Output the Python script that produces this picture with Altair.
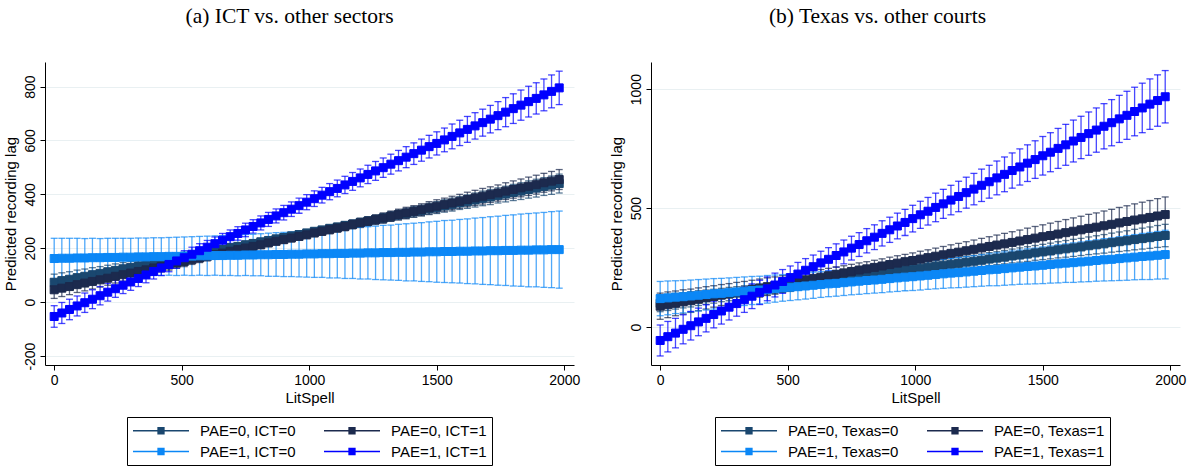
import altair as alt
import pandas as pd

LITSPELL = [0, 30, 60, 90, 120, 150, 180, 210, 240, 270, 300, 330, 360, 390, 420, 450, 480, 510, 540, 570,
            600, 630, 660, 690, 720, 750, 780, 810, 840, 870, 900, 930, 960, 990, 1020, 1050, 1080, 1110, 1140, 1170,
            1200, 1230, 1260, 1290, 1320, 1350, 1380, 1410, 1440, 1470, 1500, 1530, 1560, 1590, 1620, 1650, 1680, 1710,
            1740, 1770, 1800, 1830, 1860, 1890, 1920, 1950, 1980]

A_LABELS = ["PAE=0, ICT=0", "PAE=0, ICT=1", "PAE=1, ICT=0", "PAE=1, ICT=1"]
B_LABELS = ["PAE=0, Texas=0", "PAE=0, Texas=1", "PAE=1, Texas=0", "PAE=1, Texas=1"]
COLORS = ["#1a476f", "#1c2a4e", "#0b87f6", "#0000ff"]

A_MEAN_00 = [74, 80, 85, 91, 96, 102, 107, 113, 118, 124, 129, 135, 141, 146, 152, 157, 163, 168, 174, 179,
             185, 190, 196, 202, 207, 213, 218, 224, 229, 235, 240, 246, 251, 257, 263, 268, 274, 279, 285, 290,
             296, 301, 307, 312, 318, 324, 329, 335, 340, 346, 351, 357, 362, 368, 373, 379, 385, 390, 396, 401,
             407, 412, 418, 423, 429, 434, 440]
A_MEAN_01 = [46, 52, 58, 65, 71, 77, 83, 89, 96, 102, 108, 114, 120, 127, 133, 139, 145, 151, 158, 164,
             170, 176, 182, 189, 195, 201, 207, 213, 220, 226, 232, 238, 244, 250, 257, 263, 269, 275, 281, 288,
             294, 300, 306, 312, 319, 325, 331, 337, 343, 350, 356, 362, 368, 374, 381, 387, 393, 399, 405, 412,
             418, 424, 430, 436, 443, 449, 455]
A_MEAN_10 = [162, 163, 163, 164, 164, 165, 165, 166, 166, 167, 167, 168, 168, 169, 169, 170, 170, 171, 171, 172,
             172, 173, 173, 174, 174, 175, 175, 176, 176, 177, 177, 178, 178, 179, 179, 180, 180, 181, 181, 182,
             182, 183, 183, 184, 184, 185, 185, 186, 186, 187, 187, 188, 188, 189, 189, 190, 190, 191, 191, 192,
             192, 193, 193, 194, 194, 195, 195]
A_MEAN_11 = [-53, -40, -27, -14, -2, 11, 24, 37, 50, 63, 75, 88, 101, 114, 127, 140, 153, 165, 178, 191,
             204, 217, 230, 243, 255, 268, 281, 294, 307, 320, 332, 345, 358, 371, 384, 397, 410, 422, 435, 448,
             461, 474, 487, 499, 512, 525, 538, 551, 564, 577, 589, 602, 615, 628, 641, 654, 666, 679, 692, 705,
             718, 731, 744, 756, 769, 782, 795]
A_HW_00 = [30, 29, 28, 28, 27, 26, 25, 24, 24, 23, 22, 21, 20, 20, 19, 18, 18, 17, 16, 16,
           15, 15, 14, 14, 13, 13, 13, 12, 12, 12, 12, 12, 12, 12, 13, 13, 13, 14, 14, 15,
           15, 16, 16, 17, 18, 18, 19, 20, 20, 21, 22, 23, 24, 24, 25, 26, 27, 28, 28, 29,
           30, 31, 32, 33, 33, 34, 35]
A_HW_01 = [32, 31, 30, 29, 29, 28, 27, 26, 25, 24, 24, 23, 22, 21, 21, 20, 19, 19, 18, 17,
           17, 16, 16, 15, 15, 15, 14, 14, 14, 14, 14, 14, 14, 14, 14, 15, 15, 15, 16, 16,
           17, 17, 18, 19, 19, 20, 21, 21, 22, 23, 24, 24, 25, 26, 27, 28, 29, 29, 30, 31,
           32, 33, 34, 35, 35, 36, 37]
A_HW_10 = [75, 74, 74, 73, 72, 72, 71, 71, 71, 70, 70, 70, 70, 70, 70, 70, 71, 71, 72, 72,
           73, 73, 74, 75, 76, 76, 77, 78, 80, 81, 82, 83, 84, 86, 87, 88, 90, 91, 93, 94,
           96, 97, 99, 101, 102, 104, 106, 107, 109, 111, 113, 115, 116, 118, 120, 122, 124, 126, 128, 130,
           132, 134, 136, 137, 139, 141, 143]
A_HW_11 = [40, 39, 38, 37, 36, 35, 34, 33, 32, 31, 31, 30, 29, 28, 28, 27, 27, 26, 26, 26,
           25, 25, 25, 25, 25, 25, 25, 26, 26, 26, 27, 27, 28, 28, 29, 29, 30, 31, 32, 33,
           33, 34, 35, 36, 37, 38, 39, 40, 41, 42, 43, 44, 46, 47, 48, 49, 50, 51, 52, 54,
           55, 56, 57, 58, 59, 61, 62]

B_MEAN_00 = [100, 104, 109, 113, 117, 122, 126, 130, 135, 139, 143, 148, 152, 156, 160, 165, 169, 173, 178, 182,
             186, 191, 195, 199, 204, 208, 212, 217, 221, 225, 230, 234, 238, 242, 247, 251, 255, 260, 264, 268,
             273, 277, 281, 286, 290, 294, 299, 303, 307, 312, 316, 320, 325, 329, 333, 337, 342, 346, 350, 355,
             359, 363, 368, 372, 376, 381, 385]
B_MEAN_01 = [88, 94, 100, 106, 111, 117, 123, 129, 135, 140, 146, 152, 158, 164, 170, 175, 181, 187, 193, 199,
             205, 210, 216, 222, 228, 234, 240, 245, 251, 257, 263, 269, 275, 280, 286, 292, 298, 304, 310, 315,
             321, 327, 333, 339, 345, 350, 356, 362, 368, 374, 380, 385, 391, 397, 403, 409, 415, 420, 426, 432,
             438, 444, 450, 455, 461, 467, 473]
B_MEAN_10 = [120, 123, 126, 128, 131, 134, 137, 140, 142, 145, 148, 151, 154, 156, 159, 162, 165, 168, 170, 173,
             176, 179, 182, 184, 187, 190, 193, 196, 198, 201, 204, 207, 210, 212, 215, 218, 221, 224, 227, 229,
             232, 235, 238, 241, 243, 246, 249, 252, 255, 257, 260, 263, 266, 269, 271, 274, 277, 280, 283, 285,
             288, 291, 294, 297, 299, 302, 305]
B_MEAN_11 = [-56, -40, -25, -9, 6, 22, 37, 53, 68, 84, 99, 115, 130, 146, 161, 177, 192, 208, 223, 239,
             254, 270, 285, 301, 316, 332, 347, 363, 378, 394, 409, 425, 440, 456, 472, 487, 503, 518, 534, 549,
             565, 580, 596, 611, 627, 642, 658, 673, 689, 704, 720, 735, 751, 766, 782, 797, 813, 828, 844, 859,
             875, 890, 906, 921, 937, 952, 968]
B_HW_00 = [35, 34, 33, 32, 32, 31, 30, 29, 28, 28, 27, 26, 26, 25, 24, 24, 23, 23, 22, 22,
           21, 21, 21, 20, 20, 20, 20, 20, 20, 20, 20, 21, 21, 21, 22, 22, 22, 23, 23, 24,
           25, 25, 26, 27, 27, 28, 29, 30, 31, 31, 32, 33, 34, 35, 36, 36, 37, 38, 39, 40,
           41, 42, 43, 44, 45, 46, 47]
B_HW_01 = [55, 54, 52, 51, 49, 48, 47, 45, 44, 43, 42, 40, 39, 38, 37, 36, 35, 34, 34, 33,
           32, 32, 31, 31, 30, 30, 30, 30, 30, 30, 31, 31, 31, 32, 33, 33, 34, 35, 36, 37,
           38, 39, 40, 41, 42, 44, 45, 46, 48, 49, 50, 52, 53, 55, 56, 57, 59, 60, 62, 63,
           65, 66, 68, 70, 71, 73, 74]
B_HW_10 = [72, 71, 69, 68, 67, 66, 65, 64, 63, 62, 61, 60, 59, 58, 58, 57, 56, 56, 55, 55,
           55, 54, 54, 54, 54, 54, 55, 55, 55, 56, 56, 57, 57, 58, 59, 59, 60, 61, 62, 63,
           64, 65, 66, 67, 69, 70, 71, 72, 74, 75, 77, 78, 80, 81, 83, 84, 86, 87, 89, 90,
           92, 94, 95, 97, 99, 100, 102]
B_HW_11 = [65, 64, 62, 61, 60, 58, 57, 56, 55, 54, 53, 53, 52, 51, 50, 50, 50, 49, 49, 49,
           49, 49, 49, 49, 50, 50, 50, 51, 52, 53, 53, 54, 55, 56, 57, 58, 60, 61, 62, 64,
           65, 66, 68, 69, 71, 73, 74, 76, 77, 79, 81, 82, 84, 86, 88, 89, 91, 93, 95, 97,
           99, 101, 102, 104, 106, 108, 110]

A_MEANS = [A_MEAN_00, A_MEAN_01, A_MEAN_10, A_MEAN_11]
A_HWS = [A_HW_00, A_HW_01, A_HW_10, A_HW_11]
B_MEANS = [B_MEAN_00, B_MEAN_01, B_MEAN_10, B_MEAN_11]
B_HWS = [B_HW_00, B_HW_01, B_HW_10, B_HW_11]

for lst in A_MEANS + A_HWS + B_MEANS + B_HWS:
    assert len(lst) == len(LITSPELL), len(lst)

FONT = "Liberation Sans"
# legend glyph: 56px line with a small filled square in its middle (unit = 7.5px)
SYMBOL = "M-1,0H6.467M2.333,-0.4H3.133V0.4H2.333Z"


def frame(labels, means, hws):
    rows = []
    for k, (lab, m, h) in enumerate(zip(labels, means, hws)):
        for x, mv, hv in zip(LITSPELL, m, h):
            rows.append(dict(LitSpell=x, lag=mv, lo=mv - hv, hi=mv + hv, series=lab, k=k))
    return pd.DataFrame(rows)


def panel(title, dx, labels, means, hws, ydom, yticks, lx):
    df = frame(labels, means, hws)
    base = alt.Chart(df)
    xs = alt.Scale(domain=[-36, 2038], nice=False, zero=False)
    ys = alt.Scale(domain=ydom, nice=False, zero=False)
    cs = alt.Scale(domain=labels, range=COLORS)
    ks = alt.Scale(domain=[0, 1, 2, 3], range=COLORS)
    xax = alt.Axis(values=[0, 500, 1000, 1500, 2000], title="LitSpell", grid=False, tickSize=5,
                   labelPadding=3, titlePadding=3, labelExpr="'' + datum.value")
    yax = alt.Axis(values=yticks, title="Predicted recording lag", grid=True, tickSize=5,
                   labelAngle=270, labelAlign="center", labelBaseline="bottom", labelPadding=3,
                   titlePadding=5, labelExpr="'' + datum.value")
    x = alt.X("LitSpell:Q", scale=xs, axis=xax)
    col = alt.Color("k:N", scale=ks, legend=None)
    rules = base.mark_rule(strokeWidth=1.3, opacity=0.72).encode(
        x=x, y=alt.Y("lo:Q", scale=ys, axis=yax), y2="hi:Q", color=col)
    cap_lo = base.mark_tick(orient="horizontal", size=7, thickness=1.3, opacity=0.72).encode(
        x="LitSpell:Q", y="lo:Q", color=col)
    cap_hi = base.mark_tick(orient="horizontal", size=7, thickness=1.3, opacity=0.72).encode(
        x="LitSpell:Q", y="hi:Q", color=col)
    lines = base.mark_line(strokeWidth=1.5).encode(
        x="LitSpell:Q", y=alt.Y("lag:Q"), color=col, order="LitSpell:Q")
    leg = alt.Legend(title=None, orient="none", legendX=lx, legendY=355, columns=2, direction="horizontal",
                     symbolType=SYMBOL, symbolSize=225, symbolStrokeWidth=1.3,
                     labelFont=FONT, labelFontSize=15, labelColor="black", labelOffset=51,
                     labelLimit=400, columnPadding=25, rowPadding=4, padding=5,
                     strokeColor="black", fillColor="white", symbolOpacity=1)
    pts = base.mark_square(size=64, opacity=1, strokeWidth=1).encode(
        x="LitSpell:Q", y="lag:Q",
        fill=alt.Fill("series:N", scale=cs, legend=leg),
        stroke=alt.Stroke("series:N", scale=cs, legend=leg))
    return alt.layer(rules, cap_lo, cap_hi, lines, pts).properties(
        width=529, height=303,
        title=alt.Title(title, dx=dx, offset=35))


pa = panel("(a) ICT vs. other sectors", -20, A_LABELS, A_MEANS, A_HWS, [-233, 891],
           [-200, 0, 200, 400, 600, 800], 82)
pb = panel("(b) Texas vs. other courts", -38, B_LABELS, B_MEANS, B_HWS, [-159, 1114],
           [0, 500, 1000], 64)

chart = alt.hconcat(pa, pb, spacing=28).resolve_scale(
    color="independent", fill="independent", stroke="independent", x="independent", y="independent"
).resolve_legend(fill="independent", stroke="independent").properties(
    padding={"left": 3, "top": 5, "right": 5, "bottom": 0}, background="white"
).configure_view(strokeWidth=0).configure_axis(
    domainColor="black", tickColor="black", labelColor="black", titleColor="black",
    labelFont=FONT, titleFont=FONT, labelFontSize=14, titleFontSize=15, titleFontWeight="normal",
    gridColor="#e9f0f2", gridWidth=1, domainWidth=1, tickWidth=1
).configure_title(font="Liberation Serif", fontSize=21.5, fontWeight="normal", color="black", anchor="middle")

chart.save("out.html", embed_options={"renderer": "svg", "actions": False})
